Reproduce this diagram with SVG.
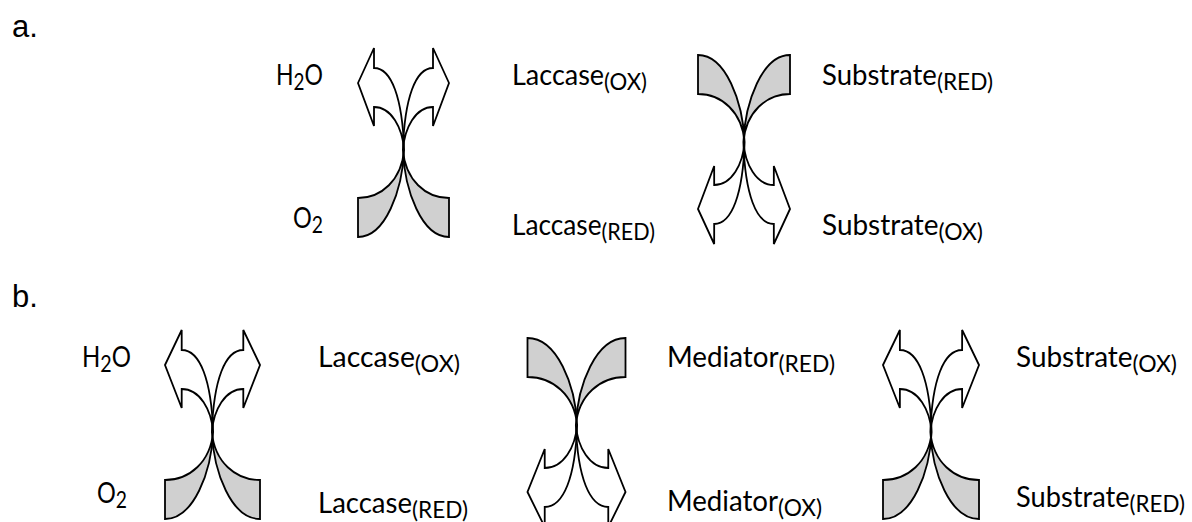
<svg xmlns="http://www.w3.org/2000/svg" xmlns:xlink="http://www.w3.org/1999/xlink" width="1192" height="522" viewBox="0 0 1192 522">
<style>
.w{fill:#ffffff;stroke:#000;stroke-width:1.8;stroke-linejoin:miter;vector-effect:non-scaling-stroke}
.g{fill:#d0d0d0;stroke:#000;stroke-width:1.8;stroke-linejoin:miter;vector-effect:non-scaling-stroke}
text{font-family:Lato,"Noto Sans",sans-serif;font-size:28px;fill:#000}
text.lbl{font-family:"Liberation Sans",Arial,sans-serif;font-size:31px}
.sub{font-size:23px}
</style>
<defs>
<path id="arr" class="w" d="M -45.5 -67 L -29.5 -102 L -29.5 -82 C -12 -82 -1 -52 0.6 0 C -1 -22 -12 -43 -29.5 -43 L -29.5 -24 Z"/>
<path id="gry" class="g" d="M -45.5 48 C -22 48 -2 30 0.6 0 C -1 40 -18 87 -45.5 87 Z"/>
<g id="pair">
<use href="#gry"/>
<use href="#gry" transform="scale(-1,1)"/>
<use href="#arr"/>
<use href="#arr" transform="scale(-1,1)"/>
</g>
</defs>
<rect width="1192" height="522" fill="#fff"/>
<g id="connectors">
<g id="a-laccase-o2-arrows" transform="translate(403.5,150)"><use href="#pair"/></g>
<g id="a-laccase-substrate-arrows" transform="translate(744,142) scale(1.011,-1)"><use href="#pair"/></g>
<g id="b-laccase-o2-arrows" transform="translate(212.5,432) scale(1.044,1)"><use href="#pair"/></g>
<g id="b-laccase-mediator-arrows" transform="translate(576.5,425) scale(1.077,-1)"><use href="#pair"/></g>
<g id="b-mediator-substrate-arrows" transform="translate(931,432) scale(1.055,1)"><use href="#pair"/></g>
</g>
<g id="label-a"><text class="lbl" x="12" y="37">a.</text></g>
<g id="label-b"><text class="lbl" x="12" y="307">b.</text></g>
<g id="a-h2o"><text x="276" y="85" textLength="47" lengthAdjust="spacingAndGlyphs">H<tspan class="sub" dy="5">2</tspan><tspan dy="-5">O</tspan></text></g>
<g id="a-o2"><text x="293" y="228" textLength="30" lengthAdjust="spacingAndGlyphs">O<tspan class="sub" dy="5">2</tspan></text></g>
<g id="a-laccase-ox"><text x="512" y="85" textLength="135" lengthAdjust="spacingAndGlyphs">Laccase<tspan class="sub" dy="5">(OX)</tspan></text></g>
<g id="a-laccase-red"><text x="512" y="235" textLength="143" lengthAdjust="spacingAndGlyphs">Laccase<tspan class="sub" dy="5">(RED)</tspan></text></g>
<g id="a-substrate-red"><text x="822" y="85" textLength="171" lengthAdjust="spacingAndGlyphs">Substrate<tspan class="sub" dy="5">(RED)</tspan></text></g>
<g id="a-substrate-ox"><text x="822" y="235" textLength="161" lengthAdjust="spacingAndGlyphs">Substrate<tspan class="sub" dy="5">(OX)</tspan></text></g>
<g id="b-h2o"><text x="82" y="367" textLength="49" lengthAdjust="spacingAndGlyphs">H<tspan class="sub" dy="5">2</tspan><tspan dy="-5">O</tspan></text></g>
<g id="b-o2"><text x="97" y="503" textLength="30" lengthAdjust="spacingAndGlyphs">O<tspan class="sub" dy="5">2</tspan></text></g>
<g id="b-laccase-ox"><text x="318" y="367" textLength="142" lengthAdjust="spacingAndGlyphs">Laccase<tspan class="sub" dy="5">(OX)</tspan></text></g>
<g id="b-laccase-red"><text x="318" y="513" textLength="150" lengthAdjust="spacingAndGlyphs">Laccase<tspan class="sub" dy="5">(RED)</tspan></text></g>
<g id="b-mediator-red"><text x="667" y="367" textLength="168" lengthAdjust="spacingAndGlyphs">Mediator<tspan class="sub" dy="5">(RED)</tspan></text></g>
<g id="b-mediator-ox"><text x="667" y="511" textLength="155" lengthAdjust="spacingAndGlyphs">Mediator<tspan class="sub" dy="5">(OX)</tspan></text></g>
<g id="b-substrate-ox"><text x="1016" y="367" textLength="161" lengthAdjust="spacingAndGlyphs">Substrate<tspan class="sub" dy="5">(OX)</tspan></text></g>
<g id="b-substrate-red"><text x="1016" y="507" textLength="169" lengthAdjust="spacingAndGlyphs">Substrate<tspan class="sub" dy="5">(RED)</tspan></text></g>
</svg>
